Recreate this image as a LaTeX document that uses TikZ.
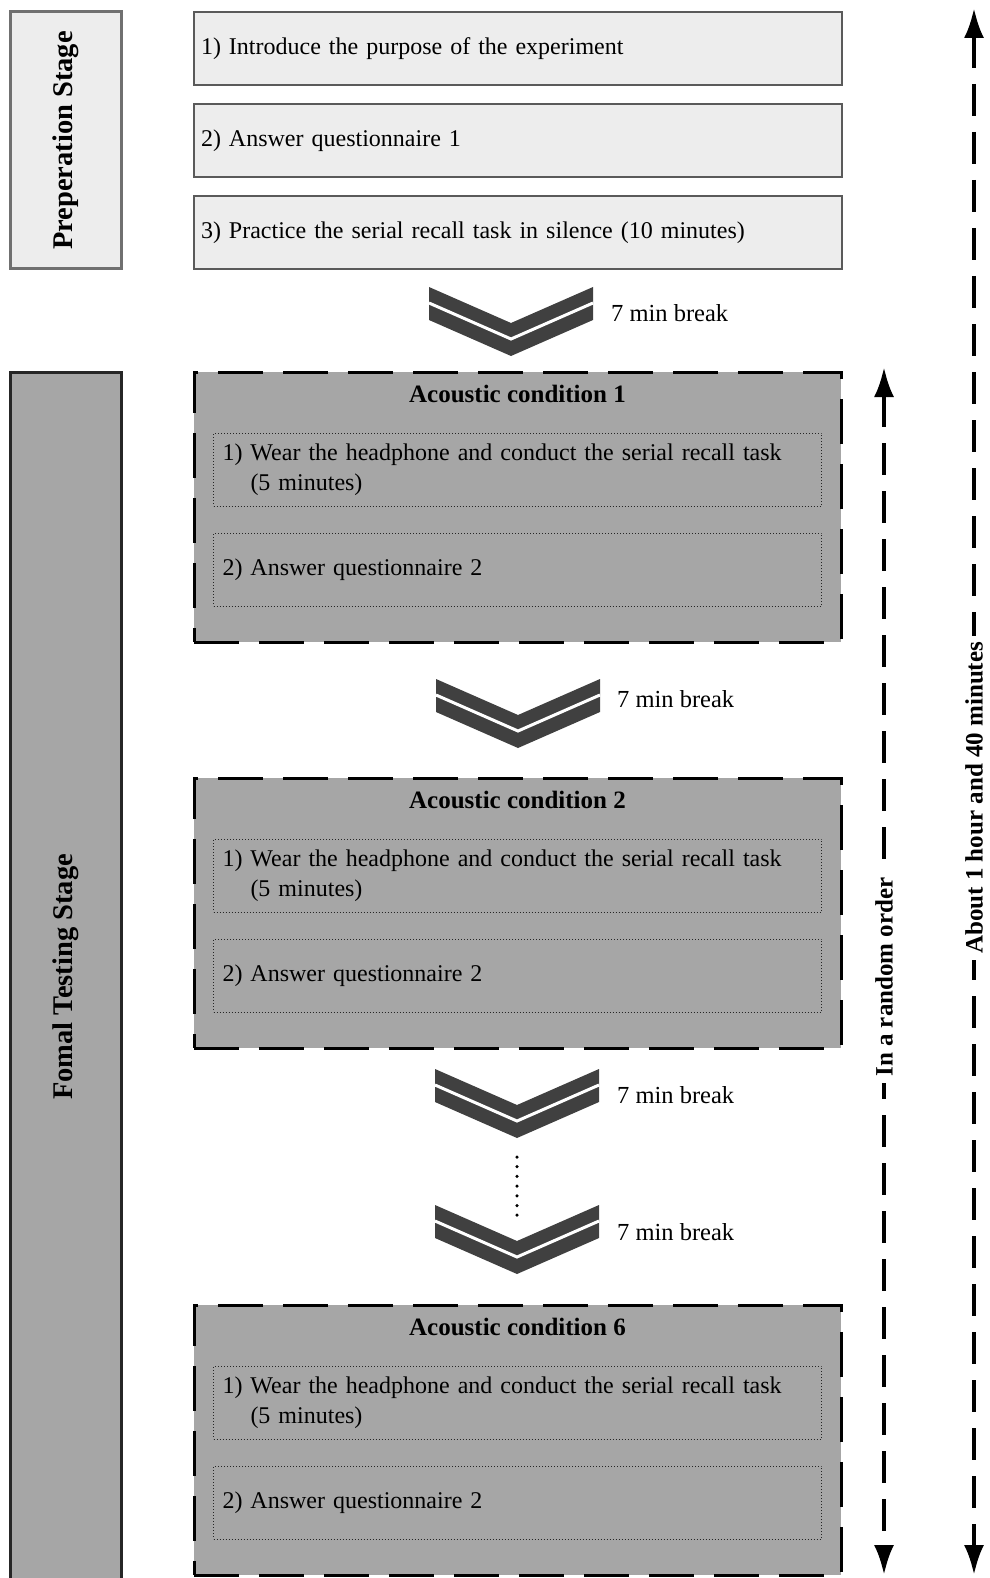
\documentclass[tikz,border=0pt]{standalone}
\usepackage{fontspec}
\setmainfont{Liberation Serif}
\usetikzlibrary{arrows.meta,calc,positioning}
\definecolor{PrepFill}{HTML}{EDEDED}
\definecolor{PrepLine}{HTML}{707070}
\definecolor{StepLine}{HTML}{5A5A5A}
\definecolor{TestFill}{HTML}{A6A6A6}
\definecolor{TestLine}{HTML}{262626}
\definecolor{ChevGray}{HTML}{404040}

\begin{document}
\begin{tikzpicture}[x=1pt,y=-1pt,
      stage/.style={line width=3pt,outer sep=0pt,inner sep=0pt,rotate=90,font=\fontsize{28.5}{32}\selectfont\bfseries},
      prepstep/.style={draw=StepLine,fill=PrepFill,line width=1.5pt,outer sep=0pt,minimum width=648pt,minimum height=73pt,text width=634pt,inner xsep=7pt,align=left,font=\fontsize{24}{30}\selectfont},
      condbox/.style={draw=black,fill=TestFill,line width=3pt,dash pattern=on 45pt off 20pt,outer sep=0pt,minimum width=647pt,minimum height=270pt},
      condtitle/.style={inner sep=0pt,font=\fontsize{25}{28}\selectfont\bfseries},
      task/.style={draw=TestLine,fill=TestFill,line width=1pt,dotted,outer sep=0pt,minimum width=608pt,minimum height=73pt,text width=590pt,inner xsep=9pt,align=left,font=\fontsize{24}{30}\selectfont},
      breaktext/.style={anchor=west,inner sep=0pt,font=\fontsize{24.5}{28}\selectfont},
      gapdots/.style={line width=3.5pt,line cap=round,dash pattern=on 0pt off 9.7pt},
      spanarrow/.style={{Latex[length=30pt,width=20pt]}-{Latex[length=30pt,width=20pt]},line width=4pt,dash pattern=on 32pt off 16pt},
      spanlabel/.style={fill=white,rotate=90,inner sep=6pt,font=\fontsize{25}{28}\selectfont\bfseries},
      breakmark/.pic={
        \fill[ChevGray] (-82,0) -- (0,36) -- (82,0) -- (82,33) -- (0,69) -- (-82,33) -- cycle;
        \draw[white,line width=3pt] (-82,16) -- (0,52) -- (82,16);
      }
    ]
      \useasboundingbox (0,0) rectangle (989,1578);
      \clip (0,0) rectangle (989,1578);

      % stages on the left
      \node[stage,draw=PrepLine,fill=PrepFill,minimum width=257pt,minimum height=111pt] (prep) at (65.5,140.5) {Preperation Stage};
      \node[stage,draw=TestLine,fill=TestFill,minimum width=1210pt,minimum height=111pt] (formal) at (65.5,977) {Fomal Testing Stage};

      % preparation steps
      \node[prepstep] (s1) at (518,48.5) {1) Introduce the purpose of the experiment};
      \node[prepstep,below=19pt of s1] (s2) {2) Answer questionnaire 1};
      \node[prepstep,below=19pt of s2] (s3) {3) Practice the serial recall task in silence (10 minutes)};

      \pic at (511,287) {breakmark};
      \node[breaktext] (w1) at (611,313) {7 min break};

      % acoustic conditions
      \node[condbox] (c1) at (517.5,507) {};
      \node[condtitle] (c1t) at ($(c1.north)+(0,22)$) {Acoustic condition 1};
      \node[task,below=61pt of c1.north] (c1a) {1) Wear the headphone and conduct the serial recall task\\\hspace*{28pt}(5 minutes)};
      \node[task,below=27pt of c1a] (c1b) {2) Answer questionnaire 2};

      \pic at (518,679) {breakmark};
      \node[breaktext] (w2) at (617,699) {7 min break};

      \node[condbox] (c2) at (517.5,913) {};
      \node[condtitle] (c2t) at ($(c2.north)+(0,22)$) {Acoustic condition 2};
      \node[task,below=61pt of c2.north] (c2a) {1) Wear the headphone and conduct the serial recall task\\\hspace*{28pt}(5 minutes)};
      \node[task,below=27pt of c2a] (c2b) {2) Answer questionnaire 2};

      \pic at (517,1069) {breakmark};
      \node[breaktext] (w3) at (617,1095) {7 min break};
      \coordinate (dtop) at (517,1157);
      \coordinate (dbot) at (517,1216);
      \draw[gapdots] (dtop) -- (dbot);
      \pic at (517,1205) {breakmark};
      \node[breaktext] (w4) at (617,1232) {7 min break};

      \node[condbox] (c6) at (517.5,1440) {};
      \node[condtitle] (c6t) at ($(c6.north)+(0,22)$) {Acoustic condition 6};
      \node[task,below=61pt of c6.north] (c6a) {1) Wear the headphone and conduct the serial recall task\\\hspace*{28pt}(5 minutes)};
      \node[task,below=27pt of c6a] (c6b) {2) Answer questionnaire 2};

      % durations on the right
      \coordinate (rtop) at (884,367);
      \coordinate (rbot) at (884,1575);
      \draw[spanarrow] (rtop) -- node[spanlabel,pos=0.505] (rlabel) {In a random order} (rbot);
      \coordinate (atop) at (974,8);
      \coordinate (abot) at (974,1575);
      \draw[spanarrow] (atop) -- node[spanlabel,pos=0.504] (alabel) {About 1 hour and 40 minutes} (abot);
    \end{tikzpicture}
\end{document}
